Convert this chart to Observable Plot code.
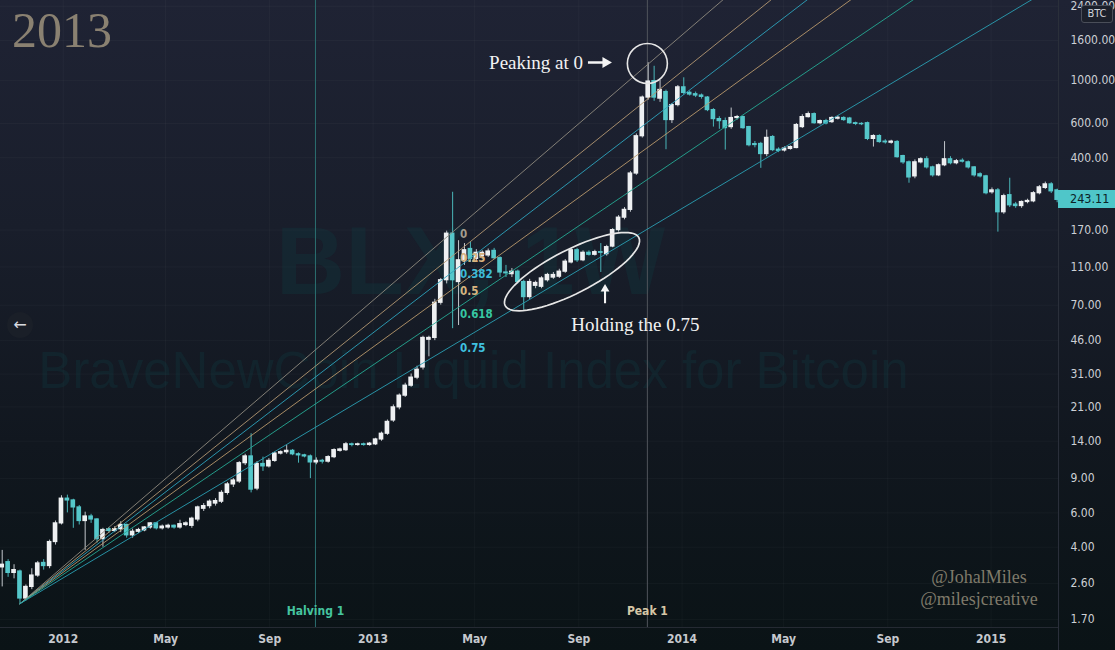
<!DOCTYPE html>
<html><head><meta charset="utf-8">
<script src="https://cdn.jsdelivr.net/npm/d3@7"></script>
<script src="https://cdn.jsdelivr.net/npm/@observablehq/plot@0.6"></script>
<style>
html,body{margin:0;padding:0;background:#0f151c;}
#wrap{position:relative;width:1115px;height:650px;overflow:hidden;
 background:linear-gradient(180deg,#1f2334 0%,#191e2b 35%,#11171f 68%,#0a1316 100%);}
#wrap svg{position:absolute;left:0;top:0;}
.ov{position:absolute;white-space:nowrap;}
</style></head><body><div id="wrap"></div>
<script>
// ---- weekly candles (BLX, BraveNewCoin Liquid Index for Bitcoin) ----
const firstWeek = "2011-10-21";
const opens = [
 3.15,3.35,2.95,3.00,2.18,2.50,2.86,3.32,3.20,4.25,
 5.30,7.10,6.95,6.40,5.45,5.75,5.55,4.40,4.95,4.85,
 4.95,5.20,4.60,4.80,4.88,5.05,5.30,5.00,5.05,5.15,
 5.05,5.20,5.15,5.55,6.30,6.50,6.70,6.85,7.60,8.40,
 8.70,10.8,11.7,8.00,10.7,10.4,11.1,12.1,12.3,12.5,
 12.0,11.85,11.7,10.9,11.1,11.0,11.6,12.5,12.6,13.5,
 13.4,13.5,13.4,13.5,14.3,15.3,17.9,20.9,24.0,27.0,
 29.7,33.5,46.5,47.5,72,94,163,92,119,136,
 121,125,126,133,122,103,101,104,92,77,
 88,87,94,97,98,104,116,134,119,130,
 127,131,128,140,170,197,216,332,516,815,
 990,805,870,625,746,920,862,848,835,815,
 703,632,617,575,640,647,575,470,471,418,
 511,440,436,444,449,575,647,670,602,617,
 610,635,640,636,602,597,602,500,517,484,
 478,482,408,379,321,379,393,357,325,366,
 393,375,386,379,357,329,321,266,272,210,
 257,230,226,237,239,263,280,292,272];
const highs = [
 3.85,3.45,3.25,3.05,2.56,3.10,3.38,3.45,4.35,5.45,
 7.35,7.40,7.05,6.55,6.05,5.90,5.60,5.00,5.05,5.10,
 5.40,5.25,4.95,5.00,5.10,5.35,5.35,5.20,5.25,5.20,
 5.50,5.40,5.70,6.50,6.70,7.00,7.10,7.80,8.60,9.00,
 11.0,12.0,15.3,11.0,11.6,11.4,12.3,12.5,13.3,12.7,
 12.2,12.0,11.9,11.5,11.3,11.8,12.8,12.9,13.8,13.7,
 13.7,13.7,13.8,14.5,15.6,18.0,21.5,24.5,27.8,31.0,
 34.0,48.5,48.5,75,96,168,266,150,145,147,
 135,133,136,137,124,112,108,106,94,95,
 93,98,102,103,107,120,137,137,133,133,
 134,145,142,173,202,222,340,530,830,1230,
 1180,1000,890,760,940,1030,880,870,850,825,
 715,650,640,720,660,655,580,485,480,555,
 520,450,455,460,600,665,687,680,625,630,
 650,655,650,645,610,605,610,525,525,495,
 492,490,412,385,390,400,405,362,372,484,
 405,392,395,385,360,335,325,280,278,260,
 314,236,240,245,268,288,300,298,276];
const lows = [
 2.50,2.80,2.75,2.03,2.12,2.42,2.80,3.05,3.10,4.10,
 5.20,6.00,5.00,5.20,3.85,5.30,4.20,4.00,4.70,4.75,
 4.75,4.45,4.45,4.70,4.80,4.95,4.90,4.90,4.95,4.95,
 4.95,5.10,5.00,5.40,6.10,6.30,6.50,6.70,7.40,8.10,
 8.50,10.5,7.60,7.80,9.80,10.2,10.9,11.9,12.0,11.8,
 10.8,11.5,9.00,10.6,10.7,10.8,11.4,12.3,12.4,13.1,
 13.2,13.2,13.2,13.3,14.0,15.0,17.5,20.3,23.5,26.5,
 29.0,32.5,38.0,46.0,70,90,53,55,112,116,
 116,120,123,120,97,97,97,90,66,75,
 85,85,92,95,96,102,114,116,117,125,
 125,103,125,138,166,192,210,325,505,790,
 780,770,440,600,730,840,830,815,800,690,
 575,560,438,560,625,560,455,450,353,405,
 430,425,428,438,445,565,640,595,590,590,
 600,625,615,595,585,585,490,454,475,470,
 470,398,370,296,312,372,350,318,320,360,
 368,368,376,350,318,315,258,260,166,205,
 222,220,220,232,235,258,275,262,235];
const closes = [
 3.25,2.95,3.05,2.18,2.50,2.86,3.30,3.20,4.25,5.30,
 7.10,6.95,6.40,5.45,5.75,5.55,4.40,4.90,4.85,4.95,
 5.20,4.60,4.80,4.90,5.05,5.30,5.00,5.10,5.15,5.05,
 5.25,5.30,5.60,6.40,6.50,6.85,6.90,7.60,8.40,8.80,
 10.8,11.7,7.90,10.7,10.4,11.1,12.1,12.3,12.5,12.0,
 11.85,11.7,10.9,11.1,11.0,11.6,12.6,12.7,13.5,13.4,
 13.5,13.4,13.6,14.3,15.3,17.6,20.9,24.0,27.0,29.7,
 32.6,47.5,47.5,72,94,163,94,119,134,121,
 130,130,132,122,103,102,104,92,77,92,
 91,96,100,100,104,117,134,119,130,127,
 131,130,139,170,197,216,332,516,815,985,
 815,892,625,746,920,861,845,835,822,703,
 632,617,568,640,647,568,464,465,418,506,
 438,434,446,454,589,647,670,602,617,600,
 640,642,625,602,597,595,500,517,482,480,
 484,403,379,317,379,393,357,325,366,393,
 375,384,382,357,325,321,263,272,210,254,
 228,226,237,240,263,282,292,269,243.11];

// ---- axes ----
const yTicks = [1.7,2.6,4,6,9,14,21,31,46,70,110,170,400,600,1000,1600,2400];
const xTickDates = ["2012-01-01","2012-05-01","2012-09-01","2013-01-01","2013-05-01","2013-09-01","2014-01-01","2014-05-01","2014-09-01","2015-01-01"];
const xTickLabels = ["2012","May","Sep","2013","May","Sep","2014","May","Sep","2015"];

// ---- Fib speed resistance fan ----
const fanLevels = [0,0.25,0.382,0.5,0.618,0.75];
const fanLineColors = ["#8e897e","#b39772","#2ea3bd","#b8986c","#26a894","#2a9fb2"];
const fanLabelColors = ["#a59d8e","#d8b47f","#3cb9d6","#d8b47f","#37c7a3","#3fc1e0"];
const fanAnchor = {date:"2011-11-11", price:2.05};
const fanEdge = {date:"2013-04-09", price:172};

// ---- events & annotations ----
const events = [
 {date:"2012-10-25", label:"Halving 1", line:"#2b6f70", color:"#45c49f"},
 {date:"2013-11-21", label:"Peak 1", line:"#50555c", color:"#d6c7a6"}];
const peakNote = {date:"2013-09-06", price:1234, text:"Peaking at 0"};
const holdNote = {date:"2013-08-23", price:55.7, text:"Holding the 0.75"};
const peakArrow = {date:"2013-09-26", price:1234};
const holdArrow = {date:"2013-10-02", price:80.3};
const peakMark = {date:"2013-11-21", price:1220};
const holdZone = {date:"2013-08-24", price:104};

// ---------------------------------------------------------------
const D = s => new Date(s+"T00:00Z");
const candles = opens.map((o,i)=>({
  date: d3.utcDay.offset(D(firstWeek), 7*i),
  o, h: highs[i], l: lows[i], c: closes[i]}));
const up = d => d.c >= d.o;
const xDomain = [D("2011-10-19"), new Date("2015-03-21T14:00Z")];
const tA = D(fanAnchor.date), tB = D(fanEdge.date), tEnd = xDomain[1];
const fans = fanLevels.map((L,k)=>{
  const pL = fanEdge.price - L*(fanEdge.price - fanAnchor.price);
  const f = (tEnd - tA)/(tB - tA);
  const pEnd = Math.exp(Math.log(fanAnchor.price) + f*(Math.log(pL)-Math.log(fanAnchor.price)));
  return {L, pL, line: fanLineColors[k], color: fanLabelColors[k],
    pts:[{date:tA, price:fanAnchor.price},{date:tEnd, price:pEnd}]};
});
const labelByTime = new Map(xTickDates.map((d,i)=>[+D(d), xTickLabels[i]]));

const ellipseSymbol = {draw(ctx, size){
  const rx = Math.sqrt(size/Math.PI), ry = rx*0.29, phi = -27*Math.PI/180;
  for(let k=0;k<=72;k++){const t=k/72*2*Math.PI, x=rx*Math.cos(t), y=ry*Math.sin(t);
    const X=x*Math.cos(phi)-y*Math.sin(phi), Y=x*Math.sin(phi)+y*Math.cos(phi);
    k?ctx.lineTo(X,Y):ctx.moveTo(X,Y);} ctx.closePath();}};
const arrowShape = [[-12,-1.3],[2.5,-1.3],[2.5,-5.5],[12,0],[2.5,5.5],[2.5,1.3],[-12,1.3]];
const arrowSymbol = (rot, s) => ({draw(ctx){
  arrowShape.forEach(([x,y],k)=>{const X=(x*Math.cos(rot)-y*Math.sin(rot))*s, Y=(x*Math.sin(rot)+y*Math.cos(rot))*s;
    k?ctx.lineTo(X,Y):ctx.moveTo(X,Y);}); ctx.closePath();}});

const cond = "'DejaVu Sans Condensed','DejaVu Sans',sans-serif";
const serif = "'Liberation Serif','DejaVu Serif',serif";

const plot = Plot.plot({
  width: 1115, height: 650,
  marginLeft: 0, marginRight: 57, marginTop: 0, marginBottom: 23,
  style: {background:"transparent", overflow:"visible"},
  x: {type:"utc", domain: xDomain, axis: null},
  y: {type:"log", domain:[1.547, 2569], axis: null},
  color: {type:"identity"},
  marks: [
    Plot.gridY({ticks: yTicks, stroke:"#ffffff", strokeOpacity:0.03}),
    Plot.gridX({ticks: xTickDates.map(D), stroke:"#ffffff", strokeOpacity:0.03}),
    Plot.text(["BLX, 1W"], {text:d=>d, frameAnchor:"middle", dx:-59, dy:-51, fontSize:96, fontWeight:"bold",
      fontFamily:"'Liberation Sans',Arial,sans-serif", fill:"#0f3a40", fillOpacity:0.32}),
    Plot.text(["BraveNewCoin Liquid Index for Bitcoin"], {text:d=>d, frameAnchor:"middle", dx:-56, dy:58, fontSize:51,
      fontFamily:"'Liberation Sans',Arial,sans-serif", fill:"#0f3a40", fillOpacity:0.32}),
    Plot.ruleX(events, {x:d=>D(d.date), stroke:d=>d.line, strokeWidth:1}),
    Plot.ruleX(candles, {x:"date", y1:"l", y2:"h", stroke:d=>up(d)?"#c3c7cc":"#4ab6b9", strokeWidth:1, clip:true}),
    Plot.rect(candles, {x1:d=>d3.utcHour.offset(d.date,-66), x2:d=>d3.utcHour.offset(d.date,66),
      y1:"o", y2:"c", fill:d=>up(d)?"#eef0f2":"#55c7ca", insetTop:-0.6, insetBottom:-0.6, clip:true}),
    ...fans.map(f=>Plot.line(f.pts, {x:"date", y:"price", stroke:f.line, strokeWidth:1, strokeOpacity:0.9, clip:true})),
    Plot.text(fans, {x:()=>tB, y:"pL", text:d=>String(d.L), fill:d=>d.color, dx:4, dy:5, textAnchor:"start",
      fontSize:11.5, fontWeight:"bold", fontFamily:cond}),
    Plot.dot([peakMark], {x:d=>D(d.date), y:"price", r:20, stroke:"#e6e6e6", strokeWidth:1.6, fill:"none"}),
    Plot.dot([holdZone], {x:d=>D(d.date), y:"price", r:75, symbol:ellipseSymbol, stroke:"#e6e6e6", strokeWidth:1.7, fill:"none"}),
    Plot.text([peakNote], {x:d=>D(d.date), y:"price", text:"text", textAnchor:"end", fill:"#f2f2f2", fontSize:19, fontFamily:serif}),
    Plot.text([holdNote], {x:d=>D(d.date), y:"price", text:"text", textAnchor:"start", fill:"#f2f2f2", fontSize:19, fontFamily:serif}),
    Plot.dot([peakArrow], {x:d=>D(d.date), y:"price", r:10, symbol:arrowSymbol(0,1), fill:"#f4f4f4", stroke:"none"}),
    Plot.dot([holdArrow], {x:d=>D(d.date), y:"price", r:10, symbol:arrowSymbol(-Math.PI/2,0.8), fill:"#f4f4f4", stroke:"none"}),
    Plot.text(events, {x:d=>D(d.date), text:"label", frameAnchor:"bottom", dy:-13, fill:d=>d.color,
      fontSize:12, fontWeight:"bold", fontFamily:cond}),
    Plot.axisX({ticks: xTickDates.map(D), tickSize:0, tickPadding:7, tickFormat:d=>labelByTime.get(+d),
      fill:"#c6c9ce", fontSize:12, fontWeight:"bold", fontFamily:cond}),
    Plot.text(yTicks, {y:d=>d, text:d=>d.toFixed(2), frameAnchor:"right", dx:12, textAnchor:"start",
      fill:"#cdd0d5", fontSize:12, fontFamily:cond})
  ]
});
const wrap = document.getElementById("wrap");
wrap.appendChild(plot);

function ov(html, css){const d=document.createElement("div"); d.className="ov"; d.innerHTML=html; d.style.cssText+=css; wrap.appendChild(d); return d;}
ov("", "left:1058px;top:0;width:1px;height:650px;background:#2a2f3a;");
ov("", "left:0;top:627px;width:1058px;height:1px;background:#252a33;");
ov("2013", "left:12px;top:5px;font:50px/50px 'Liberation Serif',serif;color:#8a8171;");
ov("@JohalMiles<br>@milesjcreative", "left:879px;top:566px;width:200px;text-align:center;font:18px/22px 'Liberation Serif',serif;color:#7f7a6a;");
ov("←", "left:7px;top:312px;width:26px;height:26px;border-radius:13px;background:#1a1f28;color:#d8dbe0;font:16px/25px 'DejaVu Sans',sans-serif;text-align:center;");
ov("BTC", "left:1081px;top:5px;width:30px;height:16px;border:1px solid #4a4e59;border-radius:3px;background:#1c202b;color:#d1d4dc;font:11px/16px 'DejaVu Sans Condensed','DejaVu Sans',sans-serif;text-align:center;");
const yLast = plot.scale("y").apply(closes[closes.length-1]);
ov(closes[closes.length-1].toFixed(2), `left:1058px;top:${yLast-9}px;width:57px;height:18px;background:#4fc6c9;color:#0b2226;font:12.5px/18px 'DejaVu Sans Condensed','DejaVu Sans',sans-serif;padding-left:12px;box-sizing:border-box;`);
</script></body></html>
